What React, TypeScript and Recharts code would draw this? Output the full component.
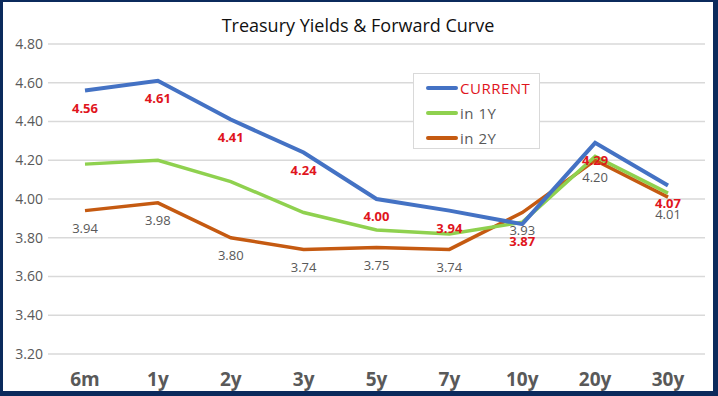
import React from 'react';
import { LineChart, Line, XAxis, YAxis, CartesianGrid, LabelList } from 'recharts';

// tenors along the curve
const tenors = ['6m', '1y', '2y', '3y', '5y', '7y', '10y', '20y', '30y'];
// yields
const current = [4.56, 4.61, 4.41, 4.24, 4.0, 3.94, 3.87, 4.29, 4.07];
const in1Y = [4.18, 4.2, 4.09, 3.93, 3.84, 3.82, 3.88, 4.22, 4.03];
const in2Y = [3.94, 3.98, 3.8, 3.74, 3.75, 3.74, 3.93, 4.2, 4.01];
const yTicks = [3.2, 3.4, 3.6, 3.8, 4.0, 4.2, 4.4, 4.6, 4.8];

const palette = {
  current: '#4472C4',
  in1Y: '#8FD14F',
  in2Y: '#C55A11',
  red: '#E0151D',
  gray: '#595959',
  grid: '#D9D9D9',
  navy: '#0B2A5C',
};

const font = '"Open Sans", "Liberation Sans", sans-serif';

const data = tenors.map((t, i) => ({ tenor: t, current: current[i], in1Y: in1Y[i], in2Y: in2Y[i] }));

const legendItems = [
  { name: 'CURRENT', color: palette.current, text: palette.red },
  { name: 'in 1Y', color: palette.in1Y, text: palette.gray },
  { name: 'in 2Y', color: palette.in2Y, text: palette.gray },
];

// legend drawn as an overlay box, like the spreadsheet one
const LegendBox = () => (
  <div
    style={{
      position: 'absolute',
      left: 410,
      top: 71,
      width: 127,
      height: 76,
      border: `1px solid ${palette.grid}`,
      background: '#fff',
      fontFamily: font,
      fontSize: 15,
      paddingTop: 1,
      boxSizing: 'border-box',
    }}
  >
    {legendItems.map((it) => (
      <div key={it.name} style={{ display: 'flex', alignItems: 'center', height: 25, paddingLeft: 12 }}>
        <div style={{ width: 32, height: 4, background: it.color, borderRadius: 2 }} />
        <span style={{ color: it.text, marginLeft: 2, letterSpacing: 0.5 }}>{it.name}</span>
      </div>
    ))}
  </div>
);

export default function App() {
  return (
    <div
      style={{
        position: 'absolute',
        left: 0,
        top: 0,
        width: 718,
        height: 396,
        boxSizing: 'border-box',
        borderTop: `2px solid ${palette.navy}`,
        borderLeft: `3px solid ${palette.navy}`,
        borderRight: `5px solid ${palette.navy}`,
        borderBottom: `5px solid ${palette.navy}`,
        background: '#fff',
      }}
    >
      <div
        style={{
          position: 'absolute',
          left: 0,
          top: 11,
          width: 710,
          textAlign: 'center',
          fontFamily: font,
          fontSize: 18,
          color: '#111',
        }}
      >
        Treasury Yields &amp; Forward Curve
      </div>
      <LineChart width={710} height={389} data={data} margin={{ top: 42, right: 8, left: 0, bottom: 0 }}>
        <CartesianGrid horizontal vertical={false} stroke={palette.grid} strokeWidth={1.5} />
        <XAxis
          dataKey="tenor"
          axisLine={false}
          tickLine={false}
          tickSize={0}
          tickMargin={19}
          height={37}
          interval={0}
          padding={{ left: 37, right: 37 }}
          tick={{ fill: palette.gray, fontSize: 19, fontWeight: 700, fontFamily: font }}
        />
        <YAxis
          domain={[3.2, 4.8]}
          ticks={yTicks}
          width={45}
          axisLine={false}
          tickLine={false}
          tickSize={0}
          tickMargin={5}
          tickFormatter={(v: number) => v.toFixed(2)}
          tick={{ fill: palette.gray, fontSize: 14, fontFamily: font }}
        />
        <Line
          type="linear"
          dataKey="in2Y"
          name="in 2Y"
          stroke={palette.in2Y}
          strokeWidth={3.5}
          dot={false}
          isAnimationActive={false}
        >
          <LabelList
            dataKey="in2Y"
            position="bottom"
            offset={13}
            formatter={(v: number) => v.toFixed(2)}
            style={{ fill: palette.gray, fontSize: 13, fontFamily: font }}
          />
        </Line>
        <Line
          type="linear"
          dataKey="in1Y"
          name="in 1Y"
          stroke={palette.in1Y}
          strokeWidth={3.5}
          dot={false}
          isAnimationActive={false}
        />
        <Line
          type="linear"
          dataKey="current"
          name="CURRENT"
          stroke={palette.current}
          strokeWidth={4}
          dot={false}
          isAnimationActive={false}
        >
          <LabelList
            dataKey="current"
            position="bottom"
            offset={13}
            formatter={(v: number) => v.toFixed(2)}
            style={{ fill: palette.red, fontSize: 13, fontWeight: 700, fontFamily: font }}
          />
        </Line>
      </LineChart>
      <LegendBox />
    </div>
  );
}
